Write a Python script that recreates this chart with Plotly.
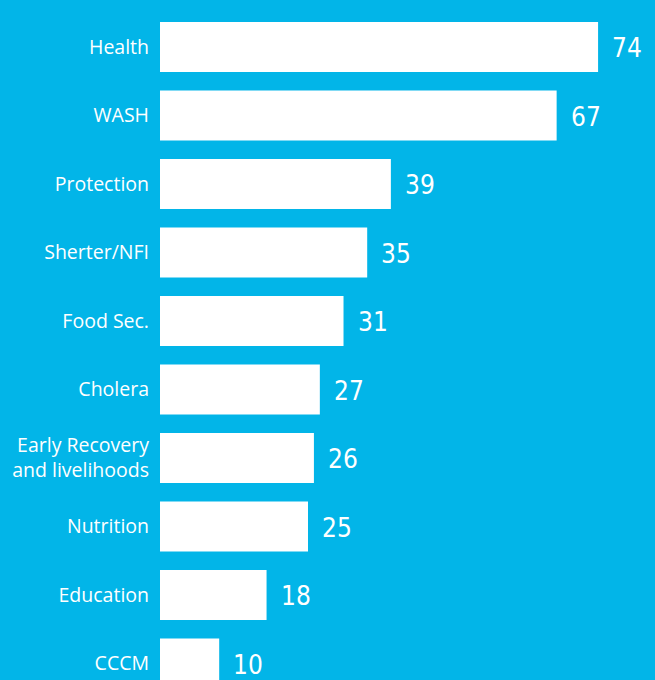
import plotly.graph_objects as go

categories = ["Health", "WASH", "Protection", "Sherter/NFI", "Food Sec.", "Cholera",
              "Early Recovery<br>and livelihoods", "Nutrition", "Education", "CCCM"]
values = [74, 67, 39, 35, 31, 27, 26, 25, 18, 10]

BG = "#02B5E8"
positions = list(range(len(categories)))

fig = go.Figure()
fig.add_trace(go.Bar(
    x=values, y=positions, orientation="h",
    marker=dict(color="white", line=dict(width=0)),
    width=0.73, hoverinfo="skip",
))

for p, v in zip(positions, values):
    fig.add_annotation(
        x=v, y=p, text=str(v), showarrow=False, xanchor="left", yanchor="middle",
        xshift=12, yshift=-1,
        font=dict(family="DejaVu Sans Condensed, Liberation Sans Narrow, Roboto", size=26, color="white"),
    )

fig.update_layout(
    width=655, height=680,
    margin=dict(l=160, r=0, t=0, b=0),
    paper_bgcolor=BG, plot_bgcolor=BG,
    showlegend=False,
    xaxis=dict(range=[0, 495 / 5.92], visible=False, fixedrange=True),
    yaxis=dict(
        range=[(680 - 47) / 68.5, -47 / 68.5],
        tickvals=positions, ticktext=categories,
        showgrid=False, zeroline=False, showline=False, ticks="",
        ticklabelstandoff=10,
        tickfont=dict(family="Open Sans", size=19.5, color="white"),
    ),
)

fig.write_html("out.html")
